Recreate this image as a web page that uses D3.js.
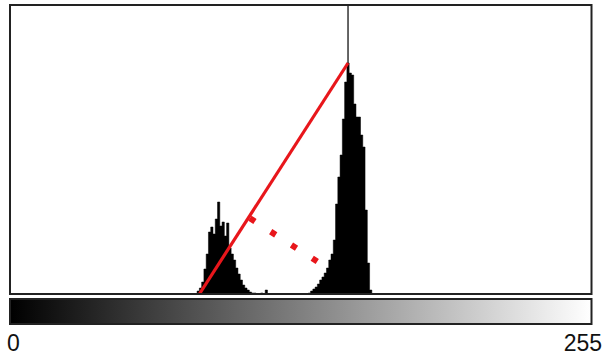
<!DOCTYPE html>
<html>
<head>
<meta charset="utf-8">
<script src="https://cdn.jsdelivr.net/npm/d3@7"></script>
<style>
  html, body { margin: 0; padding: 0; background: #fff; }
  svg { display: block; }
</style>
</head>
<body>
<svg id="chart" width="606" height="355"></svg>
<script>
/* histogram counts (bins 0..255, empty bins left out) */
var leftStart = 82;
var leftCounts = [3, 6, 12, 25, 40, 62, 67, 60, 75, 92, 68, 72, 58, 71, 46, 40, 34, 26, 20, 14, 9, 6, 4, 2, 1, 1];
var midBins = [110, 112];
var midCounts = [1, 4];
var rightStart = 131;
var rightCounts = [1, 3, 5, 7, 10, 14, 17, 21, 26, 34, 40, 54, 90, 117, 139, 175, 212, 231, 221, 219, 190, 177, 177, 159, 147, 84, 31, 4];

/* triangle : base of the line, peak, and the farthest point */
var baseBin = 83;
var peakBin = 148;
var peakCount = 231;
var farPoint = {bin: 136.6, count: 30};

var axisLabels = ["0", "255"];

var svg = d3.select("#chart");

// plot box (names not "top", window.top is read only)
var pLeft = 11, pRight = 592, pTop = 5, pBottom = 294;
var x = d3.scaleLinear().domain([0, 256]).range([pLeft, pRight]);
var y = d3.scaleLinear().domain([0, 289]).range([pBottom, pTop]);

/* all 256 bins, zero where nothing was read */
var hist = d3.range(257).map(function (b) { return {bin: b, count: 0}; });
leftCounts.forEach(function (c, i) { hist[leftStart + i].count = c; });
midBins.forEach(function (b, i) { hist[b].count = midCounts[i]; });
rightCounts.forEach(function (c, i) { hist[rightStart + i].count = c; });

svg.append("clipPath").attr("id", "clip")
    .append("rect")
    .attr("x", pLeft - 1).attr("y", pTop)
    .attr("width", pRight - pLeft + 1).attr("height", pBottom - pTop);

var plot = svg.append("g").attr("clip-path", "url(#clip)");

/* vertical line on the peak (behind the bars) */
plot.append("line")
    .attr("x1", x(peakBin + 0.5)).attr("x2", x(peakBin + 0.5))
    .attr("y1", pTop).attr("y2", pBottom)
    .attr("stroke", "#333")
    .attr("stroke-width", 1.5);

/* histogram as one stepped area, no gaps between bins */
var area = d3.area()
    .curve(d3.curveStepAfter)
    .x(function (d) { return x(d.bin); })
    .y0(pBottom)
    .y1(function (d) { return y(d.count); });

plot.append("path")
    .datum(hist)
    .attr("d", area)
    .attr("fill", "#000")
    .attr("stroke", "#000")
    .attr("stroke-width", 0.5);

/* red line from the base to the top of the peak */
var ax = x(baseBin), ay = y(0);
var bx = x(peakBin + 0.5), by = y(peakCount);
plot.append("line")
    .attr("x1", ax).attr("y1", ay)
    .attr("x2", bx).attr("y2", by)
    .attr("stroke", "#e8161b")
    .attr("stroke-width", 3.2);

/* dotted perpendicular from the line to the farthest point */
var px = x(farPoint.bin), py = y(farPoint.count);
var dx = bx - ax, dy = by - ay, len = Math.sqrt(dx * dx + dy * dy);
var t = ((px - ax) * dx + (py - ay) * dy) / len;
var fx = ax + dx / len * t, fy = ay + dy / len * t;
plot.append("line")
    .attr("x1", fx).attr("y1", fy)
    .attr("x2", px).attr("y2", py)
    .attr("stroke", "#e8161b")
    .attr("stroke-width", 6)
    .attr("stroke-dasharray", "6 18.7")
    .attr("stroke-dashoffset", -1.5);

/* frame */
svg.append("rect")
    .attr("x", pLeft - 1).attr("y", pTop)
    .attr("width", pRight - pLeft + 0.5).attr("height", pBottom - pTop)
    .attr("fill", "none")
    .attr("stroke", "#222")
    .attr("stroke-width", 2);

/* gray scale bar */
var grad = svg.append("defs").append("linearGradient")
    .attr("id", "gray")
    .attr("x1", "0%").attr("x2", "100%");
grad.append("stop").attr("offset", "0%").attr("stop-color", "#000");
grad.append("stop").attr("offset", "100%").attr("stop-color", "#fff");

svg.append("rect")
    .attr("x", pLeft - 1).attr("y", 299)
    .attr("width", pRight - pLeft + 0.5).attr("height", 25)
    .attr("fill", "url(#gray)")
    .attr("stroke", "#222")
    .attr("stroke-width", 2);

/* labels 0 and 255 */
svg.selectAll("text.lab")
    .data(axisLabels)
    .enter()
    .append("text")
    .attr("class", "lab")
    .attr("x", function (d, i) { return i === 0 ? 7 : 602; })
    .attr("y", 351)
    .attr("text-anchor", function (d, i) { return i === 0 ? "start" : "end"; })
    .attr("font-family", "Liberation Sans, Arial, sans-serif")
    .attr("font-size", 23)
    .attr("fill", "#111")
    .text(function (d) { return d; });
</script>
</body>
</html>
